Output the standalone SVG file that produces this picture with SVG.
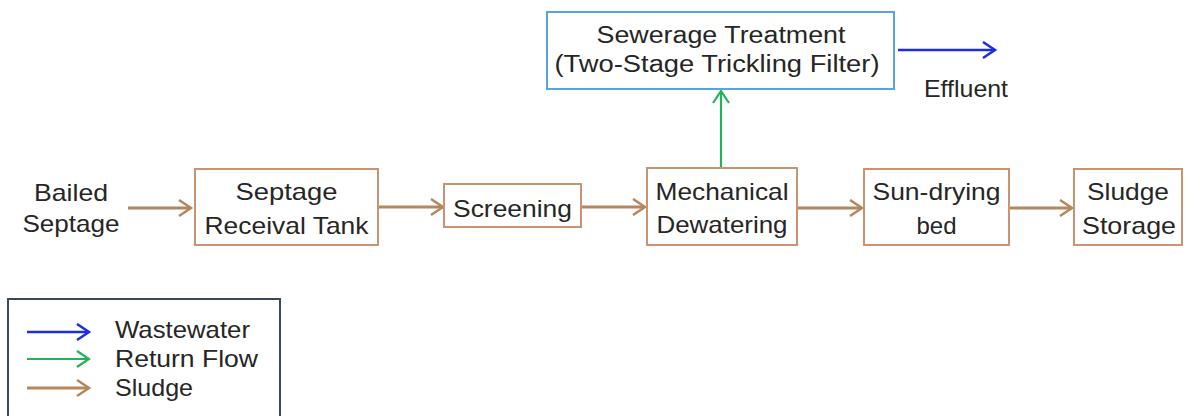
<svg xmlns="http://www.w3.org/2000/svg" width="1186" height="416" viewBox="0 0 1186 416">
  <style>
    .lbl { font-family: "Liberation Sans", Arial, sans-serif; font-size: 24px; fill: #262626; text-anchor: middle; }
    .top { font-size: 23px; }
    .leg { text-anchor: start; }
    .box { fill: #ffffff; stroke: #c99474; stroke-width: 2; }
    .boxblue { fill: #ffffff; stroke: #5aa4dc; stroke-width: 2; }
    .sludge { stroke: #b7865c; stroke-width: 3; fill: none; }
    .water { stroke: #1f2de0; stroke-width: 2.5; fill: none; }
    .ret { stroke: #22b25a; stroke-width: 2.2; fill: none; }
  </style>
  <defs>
    <marker id="headSludge" markerUnits="userSpaceOnUse" markerWidth="16" markerHeight="20" refX="13" refY="9" orient="auto">
      <path d="M1,1 L13,9 L1,17" fill="none" stroke="#b7865c" stroke-width="2.5"/>
    </marker>
    <marker id="headWater" markerUnits="userSpaceOnUse" markerWidth="16" markerHeight="20" refX="13" refY="9" orient="auto">
      <path d="M1,1 L13,9 L1,17" fill="none" stroke="#1f2de0" stroke-width="2.5"/>
    </marker>
    <marker id="headReturn" markerUnits="userSpaceOnUse" markerWidth="16" markerHeight="20" refX="13" refY="9" orient="auto">
      <path d="M1,1 L13,9 L1,17" fill="none" stroke="#22b25a" stroke-width="2.2"/>
    </marker>
  </defs>

  <rect width="1186" height="416" fill="#ffffff"/>

  <!-- connectors -->
  <g id="connectors">
    <line class="sludge" x1="128" y1="208" x2="191" y2="208" marker-end="url(#headSludge)"/>
    <line class="sludge" x1="378" y1="207" x2="443" y2="207" marker-end="url(#headSludge)"/>
    <line class="sludge" x1="581" y1="207" x2="645" y2="207" marker-end="url(#headSludge)"/>
    <line class="sludge" x1="797" y1="208" x2="862" y2="208" marker-end="url(#headSludge)"/>
    <line class="sludge" x1="1009" y1="208" x2="1072" y2="208" marker-end="url(#headSludge)"/>
    <line class="ret" x1="721" y1="168" x2="721" y2="91" marker-end="url(#headReturn)"/>
    <line class="water" x1="898" y1="50" x2="995" y2="50" marker-end="url(#headWater)"/>
  </g>

  <!-- source label -->
  <g id="bailed-septage">
    <text class="lbl" x="71" y="201" textLength="74" lengthAdjust="spacingAndGlyphs">Bailed</text>
    <text class="lbl" x="71" y="232" textLength="97" lengthAdjust="spacingAndGlyphs">Septage</text>
  </g>

  <g id="receival-tank">
    <rect class="box" x="195" y="169" width="183" height="76"/>
    <text class="lbl" x="286.5" y="200" textLength="102" lengthAdjust="spacingAndGlyphs">Septage</text>
    <text class="lbl" x="286.5" y="234" textLength="164" lengthAdjust="spacingAndGlyphs">Receival Tank</text>
  </g>

  <g id="screening">
    <rect class="box" x="444" y="184" width="137" height="43"/>
    <text class="lbl" x="512.5" y="217" textLength="119" lengthAdjust="spacingAndGlyphs">Screening</text>
  </g>

  <g id="dewatering">
    <rect class="box" x="647" y="168" width="150" height="77"/>
    <text class="lbl" x="722" y="200" textLength="133" lengthAdjust="spacingAndGlyphs">Mechanical</text>
    <text class="lbl" x="722" y="233" textLength="131" lengthAdjust="spacingAndGlyphs">Dewatering</text>
  </g>

  <g id="sun-drying">
    <rect class="box" x="864" y="169" width="145" height="76"/>
    <text class="lbl" x="936.5" y="200" textLength="128" lengthAdjust="spacingAndGlyphs">Sun-drying</text>
    <text class="lbl" x="936.5" y="234" textLength="40" lengthAdjust="spacingAndGlyphs">bed</text>
  </g>

  <g id="sludge-storage">
    <rect class="box" x="1074" y="169" width="108" height="76"/>
    <text class="lbl" x="1128" y="200" textLength="82" lengthAdjust="spacingAndGlyphs">Sludge</text>
    <text class="lbl" x="1129" y="234" textLength="94" lengthAdjust="spacingAndGlyphs">Storage</text>
  </g>

  <g id="sewerage-treatment">
    <rect class="boxblue" x="547" y="12" width="347" height="77"/>
    <text class="lbl top" x="721" y="43" textLength="249" lengthAdjust="spacingAndGlyphs">Sewerage Treatment</text>
    <text class="lbl top" x="717" y="72" textLength="325" lengthAdjust="spacingAndGlyphs">(Two-Stage Trickling Filter)</text>
  </g>

  <g id="effluent">
    <text class="lbl" x="966" y="97" textLength="84" lengthAdjust="spacingAndGlyphs">Effluent</text>
  </g>

  <!-- legend -->
  <g id="legend">
    <rect x="8" y="299" width="272" height="130" fill="#ffffff" stroke="#3f4858" stroke-width="2"/>
    <line class="water" x1="27" y1="332" x2="89" y2="332" marker-end="url(#headWater)"/>
    <line class="ret" x1="27" y1="359" x2="89" y2="359" marker-end="url(#headReturn)"/>
    <line class="sludge" x1="27" y1="388" x2="89" y2="388" marker-end="url(#headSludge)"/>
    <text class="lbl leg" x="115" y="338" textLength="135" lengthAdjust="spacingAndGlyphs">Wastewater</text>
    <text class="lbl leg" x="115" y="367" textLength="143" lengthAdjust="spacingAndGlyphs">Return Flow</text>
    <text class="lbl leg" x="115" y="396" textLength="78" lengthAdjust="spacingAndGlyphs">Sludge</text>
  </g>
</svg>
